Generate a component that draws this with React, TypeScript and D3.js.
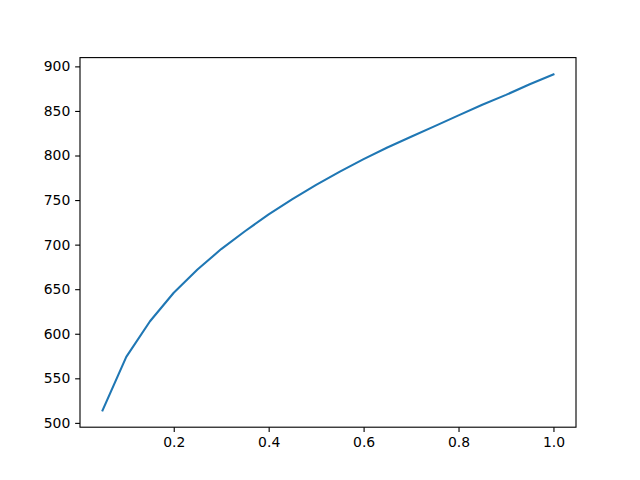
import { useEffect, useRef } from 'react';
import * as d3 from 'd3';

const xValues = [
  0.05, 0.1, 0.15, 0.2, 0.25, 0.3, 0.35, 0.4, 0.45, 0.5, 0.55, 0.6, 0.65, 0.7, 0.75, 0.8, 0.85,
  0.9, 0.95, 1.0
];
const yValues = [
  514, 574, 614, 646, 672, 695, 715, 734, 751, 767, 782, 796, 809, 821, 833, 845, 857, 868, 880,
  891
];
const xTicks = [0.2, 0.4, 0.6, 0.8, 1.0];
const yTicks = [500, 550, 600, 650, 700, 750, 800, 850, 900];

export default function App() {
  const svgRef = useRef<SVGSVGElement>(null);

  useEffect(() => {
    if (!svgRef.current) return;
    const svg = d3.select(svgRef.current);
    svg.selectAll('*').remove();

    const W = 640;
    const H = 480;
    const margin = { top: 57.6, right: 64, bottom: 52.8, left: 80 };
    const width = W - margin.left - margin.right;
    const height = H - margin.top - margin.bottom;

    // matplotlib-style 5% padding around the data
    const [xMin, xMax] = d3.extent(xValues) as [number, number];
    const [yMin, yMax] = d3.extent(yValues) as [number, number];
    const xPad = (xMax - xMin) * 0.05;
    const yPad = (yMax - yMin) * 0.05;

    const xScale = d3
      .scaleLinear()
      .domain([xMin - xPad, xMax + xPad])
      .range([0, width]);
    const yScale = d3
      .scaleLinear()
      .domain([yMin - yPad, yMax + yPad])
      .range([height, 0]);

    const g = svg.append('g').attr('transform', `translate(${margin.left},${margin.top})`);

    const font = 'DejaVu Sans, sans-serif';

    // Line
    const points = xValues.map((x, i) => [x, yValues[i]] as [number, number]);
    const line = d3
      .line<[number, number]>()
      .x((d) => xScale(d[0]))
      .y((d) => yScale(d[1]));

    g.append('path')
      .datum(points)
      .attr('fill', 'none')
      .attr('stroke', '#1f77b4')
      .attr('stroke-width', 2.08)
      .attr('stroke-linejoin', 'round')
      .attr('stroke-linecap', 'square')
      .attr('d', line);

    // Axes
    const xAxis = g
      .append('g')
      .attr('transform', `translate(0,${height})`)
      .call(
        d3
          .axisBottom(xScale)
          .tickValues(xTicks)
          .tickSize(4.86)
          .tickPadding(4.86)
          .tickFormat((d) => d3.format('.1f')(d as number))
      );
    const yAxis = g.append('g').call(
      d3
        .axisLeft(yScale)
        .tickValues(yTicks)
        .tickSize(4.86)
        .tickPadding(4.86)
        .tickFormat((d) => String(d))
    );

    [xAxis, yAxis].forEach((ax) => {
      ax.select('.domain').remove();
      ax.selectAll('line').attr('stroke', '#000').attr('stroke-width', 1.11);
      ax.selectAll('text')
        .attr('fill', '#000')
        .style('font-family', font)
        .style('font-size', '13.9px');
    });

    // Frame (spines)
    g.append('rect')
      .attr('x', 0)
      .attr('y', 0)
      .attr('width', width)
      .attr('height', height)
      .attr('fill', 'none')
      .attr('stroke', '#000')
      .attr('stroke-width', 1.11);
  }, []);

  return (
    <svg
      ref={svgRef}
      width={640}
      height={480}
      style={{ position: 'absolute', left: 0, top: 0, background: '#fff' }}
    />
  );
}
